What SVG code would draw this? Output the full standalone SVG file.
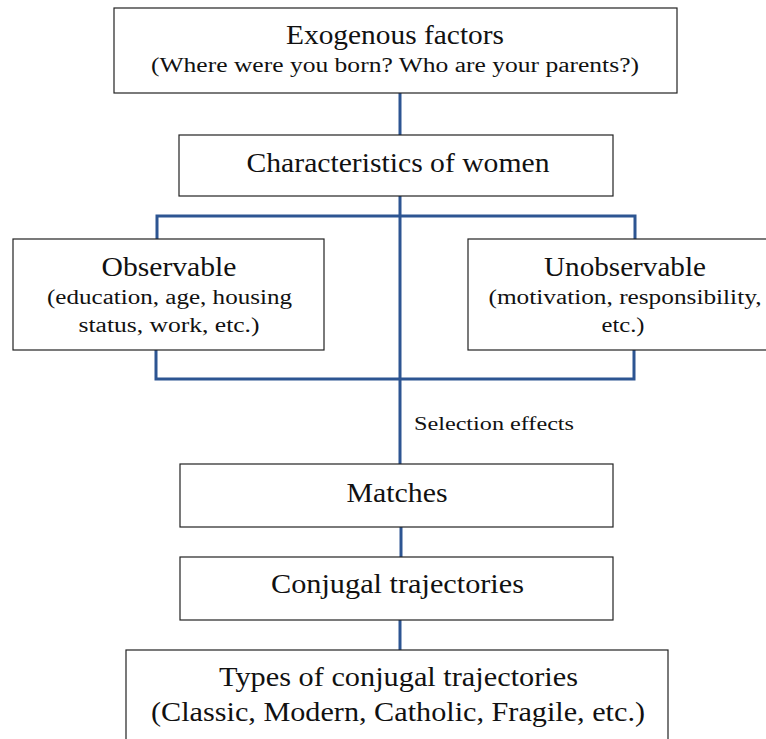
<svg xmlns="http://www.w3.org/2000/svg" width="766" height="739" viewBox="0 0 766 739">
<style>
.box{fill:#fff;stroke:#222;stroke-width:1.2}
.t{font-family:"Liberation Serif","DejaVu Serif",serif;fill:#111;text-anchor:middle}
.h{font-size:26.5px}
.s{font-size:20.5px}
.c{fill:none;stroke:#2d5592;stroke-width:3}
</style>
<rect width="766" height="739" fill="#fff"/>
<g id="connectors">
<line class="c" x1="400" y1="93" x2="400" y2="135"/>
<line class="c" x1="400" y1="196" x2="400" y2="464"/>
<polyline class="c" points="157,239 157,216 635,216 635,239"/>
<polyline class="c" points="156,350 156,379 634,379 634,350"/>
<line class="c" x1="401" y1="527" x2="401" y2="557"/>
<line class="c" x1="400" y1="620" x2="400" y2="650"/>
<text class="t" x="414" y="430" style="font-size:19.5px;text-anchor:start" textLength="160" lengthAdjust="spacingAndGlyphs">Selection effects</text>
</g>
<g id="exogenous">
<rect class="box" x="114" y="8" width="563" height="85"/>
<text class="t h" x="395" y="44" textLength="218" lengthAdjust="spacingAndGlyphs">Exogenous factors</text>
<text class="t s" x="395" y="72" textLength="488" lengthAdjust="spacingAndGlyphs">(Where were you born? Who are your parents?)</text>
</g>
<g id="characteristics">
<rect class="box" x="179" y="135" width="434" height="61"/>
<text class="t h" x="398" y="172" textLength="303" lengthAdjust="spacingAndGlyphs">Characteristics of women</text>
</g>
<g id="observable">
<rect class="box" x="13" y="239" width="311" height="111"/>
<text class="t h" x="169" y="276" textLength="135" lengthAdjust="spacingAndGlyphs">Observable</text>
<text class="t s" x="169.5" y="304" textLength="245" lengthAdjust="spacingAndGlyphs">(education, age, housing</text>
<text class="t s" x="169" y="332" textLength="181" lengthAdjust="spacingAndGlyphs">status, work, etc.)</text>
</g>
<g id="unobservable">
<rect class="box" x="468" y="239" width="310" height="111"/>
<text class="t h" x="625" y="276" textLength="162" lengthAdjust="spacingAndGlyphs">Unobservable</text>
<text class="t s" x="625" y="304" textLength="273" lengthAdjust="spacingAndGlyphs">(motivation, responsibility,</text>
<text class="t s" x="623" y="332" textLength="43" lengthAdjust="spacingAndGlyphs">etc.)</text>
</g>
<g id="matches">
<rect class="box" x="180" y="464" width="433" height="63"/>
<text class="t h" x="397" y="502" textLength="101" lengthAdjust="spacingAndGlyphs">Matches</text>
</g>
<g id="conjugal">
<rect class="box" x="180" y="557" width="433" height="63"/>
<text class="t h" x="397.5" y="593" textLength="253" lengthAdjust="spacingAndGlyphs">Conjugal trajectories</text>
</g>
<g id="types">
<rect class="box" x="126" y="650" width="542" height="100"/>
<text class="t h" x="398.5" y="686" textLength="359" lengthAdjust="spacingAndGlyphs">Types of conjugal trajectories</text>
<text class="t h" x="398" y="721" textLength="494" lengthAdjust="spacingAndGlyphs">(Classic, Modern, Catholic, Fragile, etc.)</text>
</g>
</svg>
